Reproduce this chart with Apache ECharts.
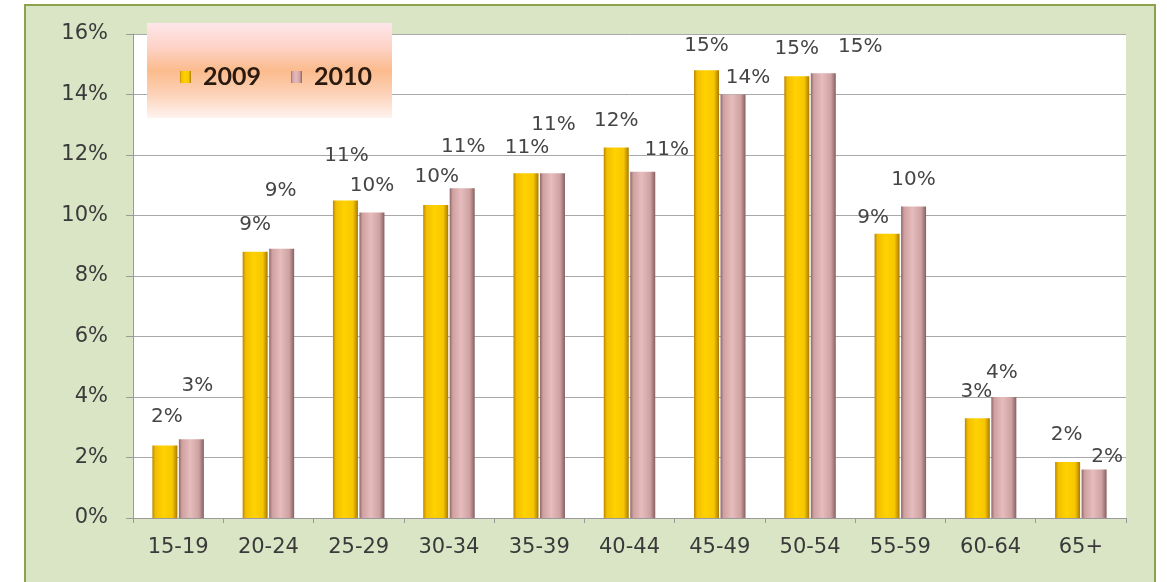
<!DOCTYPE html>
<html><head><meta charset="utf-8">
<script src="https://cdn.jsdelivr.net/npm/echarts@6/dist/echarts.min.js"></script>
<style>
html,body{margin:0;padding:0;background:#fff;overflow:hidden;}
#frame{position:absolute;left:24px;top:4px;width:1132px;height:600px;background:#dae5c5;border-left:2px solid #8ea24e;border-top:2px solid #8ea24e;border-right:2px solid #8ea24e;box-sizing:border-box;}
#chart{position:absolute;left:0;top:0;width:1167px;height:582px;}
</style></head><body>
<div id="frame"></div><div id="chart"></div>
<script>
// ---- data ----
const categories = ['15-19','20-24','25-29','30-34','35-39','40-44','45-49','50-54','55-59','60-64','65+'];
const seriesNames = ['2009','2010'];
const values2009 = [2.4, 8.8, 10.5, 10.35, 11.4, 12.25, 14.8, 14.6, 9.4, 3.3, 1.85];
const values2010 = [2.6, 8.9, 10.1, 10.9, 11.4, 11.45, 14.0, 14.7, 10.3, 4.0, 1.6];
const yMin = 0, yMax = 16, yStep = 2;

// ---- label placement (styling only) ----
const labelOffset2009 = [[2,-29],[0,-27],[1,-45],[1,-28],[1,-25],[0,-27],[0,-25],[0,-28],[-14,-16],[-1,-26],[-1,-27]];
const labelOffset2010 = [[6,-54],[-1,-58],[0,-27],[1,-41],[1,-48],[24,-22],[15,-17],[37,-27],[0,-27],[-2,-24],[13,-13]];

const FONT = 'DejaVu Sans';
const chart = echarts.init(document.getElementById('chart'), null, {renderer:'canvas'});

function grad(stops){
  return new echarts.graphic.LinearGradient(0,0,1,0, stops.map((c,i)=>({offset:c[0],color:c[1]})));
}
const gold = grad([[0,'#b98600'],[0.12,'#f2be00'],[0.45,'#ffd200'],[0.8,'#f7c600'],[1,'#a87a00']]);
const pink = grad([[0,'#8e6666'],[0.12,'#cfa0a0'],[0.45,'#e6bcbc'],[0.8,'#cfa2a2'],[1,'#876060']]);

function mkData(vals, offs){
  return vals.map((v,i)=>({value:v, label:{offset:offs[i]}}));
}
const labelCfg = {
  show:true, position:'top', distance:0, verticalAlign:'middle', align:'center',
  fontFamily:FONT, fontSize:20, color:'#454545',
  formatter: p => Math.round(p.value) + '%'
};

chart.setOption({
  animation:false,
  backgroundColor:'transparent',
  grid:{left:133, right:41, top:34, bottom:64, show:true, backgroundColor:'#ffffff', borderWidth:0},
  graphic:[{
    type:'rect', z:5, shape:{x:147,y:23,width:245,height:95},
    style:{fill:new echarts.graphic.LinearGradient(0,0,0,1,[
      {offset:0,color:'#fde6ea'},{offset:0.25,color:'#fdd3c8'},{offset:0.5,color:'#fbbb8c'},
      {offset:0.75,color:'#fcd2b8'},{offset:1,color:'#fff3ef'}])}
  }],
  legend:{
    z:10, left:175, top:57, icon:'rect', itemWidth:11, itemHeight:12, itemGap:30,
    data:seriesNames,
    textStyle:{fontFamily:'Lato', fontWeight:'bold', fontSize:25, color:'#2a1a10', padding:[0,0,0,7], lineHeight:30}
  },
  xAxis:{
    type:'category', data:categories,
    axisLine:{lineStyle:{color:'#9a9a9a', width:1}},
    axisTick:{show:true, length:5, lineStyle:{color:'#9a9a9a'}},
    axisLabel:{fontFamily:FONT, fontSize:21, color:'#3a3a3a', margin:19}
  },
  yAxis:{
    type:'value', min:yMin, max:yMax, interval:yStep,
    axisLine:{show:true, lineStyle:{color:'#9a9a9a'}},
    axisTick:{show:true, length:7, lineStyle:{color:'#9a9a9a'}},
    splitLine:{lineStyle:{color:'#a8a8a8', width:1}},
    axisLabel:{fontFamily:FONT, fontSize:21, color:'#3a3a3a', margin:25, formatter:'{value}%'}
  },
  series:[
    {name:seriesNames[0], type:'bar', barWidth:25, barGap:'6%', data:mkData(values2009, labelOffset2009),
     itemStyle:{color:gold, borderColor:'#b08400', borderWidth:0}, label:labelCfg},
    {name:seriesNames[1], type:'bar', barWidth:25, barGap:'6%', data:mkData(values2010, labelOffset2010),
     itemStyle:{color:pink}, label:labelCfg}
  ]
});
</script>
</body></html>
